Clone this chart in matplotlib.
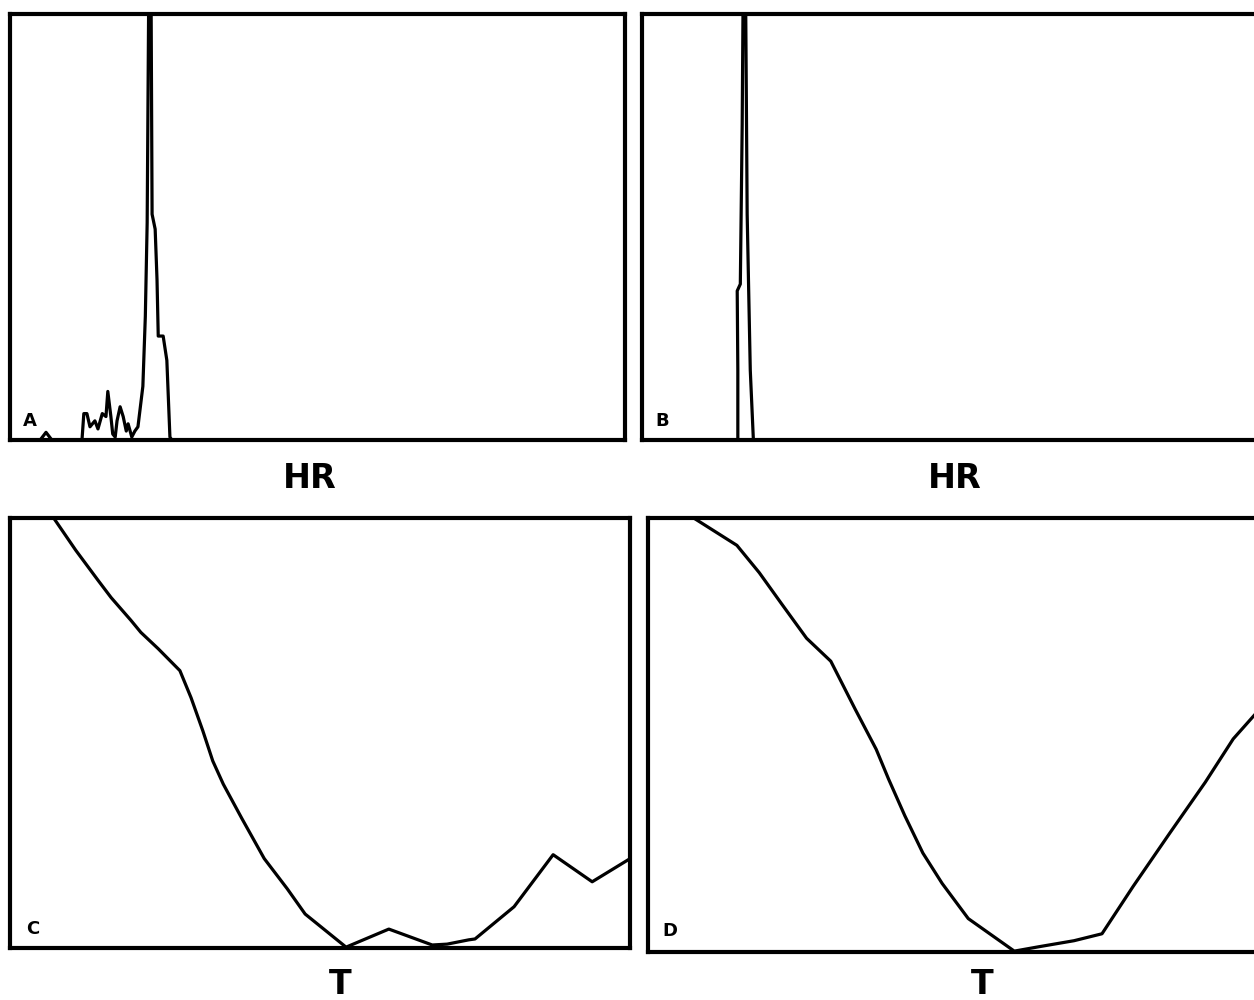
import numpy as np
import matplotlib
matplotlib.use("Agg")
import matplotlib.pyplot as plt

# Panel A: HR histogram (x and y in percent of the panel)
hr_a_x = [0, 4.9, 5.85, 6.8, 11.7, 12.0, 12.5, 13.0, 13.8, 14.3, 15.0, 15.6, 15.9,
          16.4, 16.7, 17.1, 17.4, 17.9, 18.4, 18.9, 19.2, 19.8, 20.3, 20.8, 21.6,
          22.0, 22.3, 22.6, 22.9, 23.1, 23.6, 23.9, 24.1, 24.9, 25.5, 26.0, 26.3, 100]
hr_a_y = [0, 0, 1.8, 0, 0, 6.2, 6.2, 3.1, 4.5, 2.6, 6.2, 5.5, 11.4,
          5.5, 1.4, 0.7, 4.5, 7.8, 5.5, 2.1, 3.8, 0.7, 2.1, 3.1, 12.6,
          29, 51, 115, 115, 53, 49.5, 37.7, 24.4, 24.4, 18.7, 0.7, 0, 0]

# Panel B: a single narrow HR spike
hr_b_x = [0, 15.4, 15.4, 15.3, 15.8, 16.1, 16.3, 16.6, 16.9, 17.4, 17.9, 100]
hr_b_y = [0, 0, 16.4, 35, 36.6, 74, 115, 115, 53, 16.4, 0, 0]

# Panel C and D: T curves
t_c_x = [6.8, 10.6, 14.2, 16.3, 19.5, 21.1, 23.9, 27.4, 29.2, 31.1, 32.7, 34.4,
         37.4, 41.0, 44.7, 47.6, 54.2, 61.1, 68.1, 70.5, 74.0, 75.0, 81.3, 87.6,
         93.9, 99.8]
t_c_y = [100.5, 92.5, 85.5, 81.5, 76.2, 73.4, 69.6, 64.5, 58.2, 50.5, 43.5, 38.1,
         30.1, 20.8, 13.8, 7.9, 0.2, 4.4, 0.7, 0.9, 1.9, 2.1, 9.6, 21.7,
         15.4, 20.6]

t_d_x = [6.8, 14.3, 17.9, 21.5, 25.5, 29.4, 33.3, 36.7, 38.7, 41.3, 44.2, 47.3,
         51.5, 58.9, 62.8, 68.5, 73.0, 78.0, 83.9, 89.6, 94.1, 99.0, 101.1]
t_d_y = [100.5, 93.7, 87.4, 80.2, 72.3, 67.0, 56.0, 46.7, 39.8, 31.4, 22.8, 15.8,
         7.7, 0.2, 1.2, 2.6, 4.2, 15.1, 27.4, 39.1, 49.1, 57.0, 60.5]

fig = plt.figure(figsize=(12.54, 10), dpi=100)

panels = [
    ("A", [0.008, 0.560, 0.4904, 0.426], hr_a_x, hr_a_y, (0.033, 0.045)),
    ("B", [0.512, 0.560, 0.4960, 0.426], hr_b_x, hr_b_y, (0.032, 0.045)),
    ("C", [0.008, 0.052, 0.4944, 0.430], t_c_x, t_c_y, (0.036, 0.045)),
    ("D", [0.5167, 0.048, 0.4960, 0.434], t_d_x, t_d_y, (0.036, 0.048)),
]

for label, rect, xs, ys, lpos in panels:
    ax = fig.add_axes(rect)
    ax.plot(xs, ys, color="black", linewidth=2.3, solid_joinstyle="round")
    ax.set_xlim(0, 100)
    ax.set_ylim(0, 100)
    ax.set_xticks([])
    ax.set_yticks([])
    for s in ax.spines.values():
        s.set_linewidth(3)
        s.set_color("black")
    ax.text(lpos[0], lpos[1], label, transform=ax.transAxes, fontsize=13,
            fontweight="bold", ha="center", va="center", family="DejaVu Sans")

# axis names under the panels
fig.text(310 / 1254, 1 - 478 / 1000, "HR", fontsize=24, fontweight="bold",
         ha="center", va="center", family="DejaVu Sans")
fig.text(955 / 1254, 1 - 478 / 1000, "HR", fontsize=24, fontweight="bold",
         ha="center", va="center", family="DejaVu Sans")
fig.text(340 / 1254, 1 - 985 / 1000, "T", fontsize=24, fontweight="bold",
         ha="center", va="center", family="DejaVu Sans")
fig.text(982 / 1254, 1 - 985 / 1000, "T", fontsize=24, fontweight="bold",
         ha="center", va="center", family="DejaVu Sans")

fig.savefig("out.png", dpi=100)
